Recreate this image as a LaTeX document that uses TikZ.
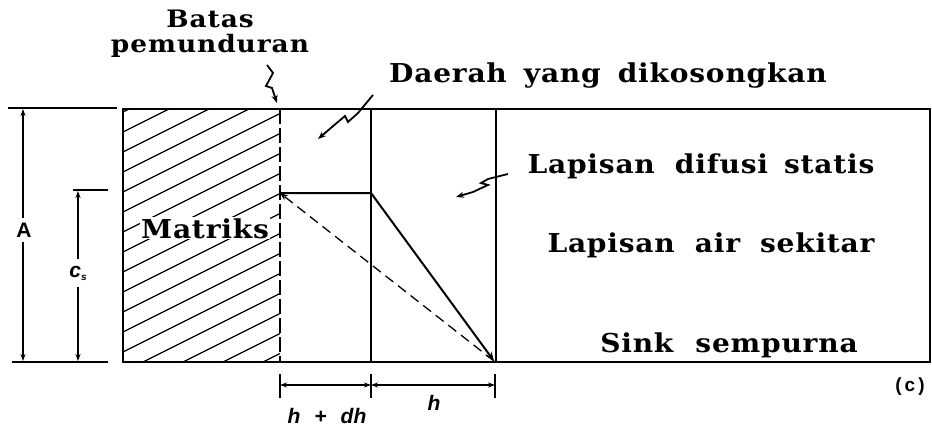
\documentclass[tikz,border=0pt]{standalone}
\usepackage{fontspec}
\setmainfont{DejaVu Serif}
\newfontfamily\dimfont{Liberation Sans}
\usetikzlibrary{positioning, arrows.meta}

\begin{document}
\begin{tikzpicture}[
  x=1pt, y=-1pt,
  lbl/.style={anchor=base, inner sep=1pt, font=\fontsize{26}{27}\selectfont\bfseries\addfontfeatures{FakeStretch=1.08,LetterSpace=3}},
  dimlbl/.style={inner sep=1pt, font=\dimfont\fontsize{21}{21}\selectfont\bfseries},
  wall/.style={line width=2pt},
  hatch/.style={line width=1.3pt},
  dimln/.style={{Stealth[length=7pt,width=5pt]}-{Stealth[length=7pt,width=5pt]}, line width=1.6pt},
  zig/.style={-{Stealth[length=8pt,width=6pt]}, line width=1.8pt}
]
\useasboundingbox (0,0) rectangle (932,428);

% box corners and layer lines
\coordinate (tl) at (123,109);
\coordinate (bl) at (123,362);
\coordinate (tr) at (930,109);
\coordinate (br) at (930,362);
\coordinate (mt) at (280,109);
\coordinate (mb) at (280,362);
\coordinate (ft) at (371,109);
\coordinate (fb) at (371,362);
\coordinate (st) at (496,109);
\coordinate (sb) at (496,362);
% concentration profile
\coordinate (p0) at (280,193);
\coordinate (p1) at (371,193);
\coordinate (p2) at (494,361);

% hatched matrix
\begin{scope}
  \clip (tl) rectangle (mb);
  \foreach \c in {112,132,...,452}
    \draw[hatch] (123,\c) -- ++(170,-85);
\end{scope}
\node[lbl, fill=white] (matriks) at (205,238) {Matriks};

\draw[wall] (tl) -- (tr) -- (br) -- (bl) -- cycle;
\draw[wall, dash pattern=on 15pt off 4pt] (mt) -- (mb);
\draw[wall] (ft) -- (fb);
\draw[wall] (st) -- (sb);

\draw[wall, -{Stealth[length=9pt,width=7pt]}] (p0) -- (p1) -- (p2);
\draw[hatch, dash pattern=on 10pt off 6pt, -{Stealth[length=8pt,width=6pt]}] (p2) -- (p0);

% height A and c_s
\coordinate (a0) at (8,108);
\coordinate (a1) at (117,108);
\coordinate (a2) at (12,362);
\coordinate (a3) at (108,362);
\coordinate (c0) at (73,190);
\coordinate (c1) at (108,190);
\draw[wall] (a0) -- (a1);
\draw[wall] (a2) -- (a3);
\draw[wall] (c0) -- (c1);
\draw[dimln] (23,109) coordinate (at) -- (23,361) coordinate (ab);
\draw[dimln] (78,191) coordinate (ct) -- (78,361) coordinate (cb);
\node[dimlbl, fill=white, inner ysep=5pt] (labA) at (24,230) {A};
\node[dimlbl, fill=white, inner ysep=7pt] (labCs) at (78,273) {\itshape c\raisebox{-3pt}{\fontsize{10}{10}\selectfont s}};

% widths h + dh and h
\coordinate (d0) at (280,385);
\coordinate (d1) at (371,385);
\coordinate (d2) at (495,385);
\foreach \d in {d0,d1,d2}
  \draw[hatch] ([yshift=-13pt]\d) -- ([yshift=11pt]\d);
\draw[dimln] (d0) -- (d1);
\draw[dimln] (d1) -- (d2);
\node[dimlbl, anchor=base] (labhdh) at (327,423) {\itshape h\hspace{14pt}+\hspace{14pt}dh};
\node[dimlbl, anchor=base] (labh) at (434,410) {\itshape h};
\node[dimlbl, font=\dimfont\fontsize{19}{19}\selectfont\bfseries] (labc) at (910,387) {(\hspace{3pt}c\hspace{3pt})};

% labels
\node[lbl, align=center, font=\fontsize{24}{25}\selectfont\bfseries\addfontfeatures{FakeStretch=1.1,LetterSpace=4}] (batas) at (210,53) {Batas\\pemunduran};
\node[lbl] (daerah) at (608,83) {Daerah\hspace{17pt}yang\hspace{17pt}dikosongkan};
\node[lbl] (difusi) at (701,173) {Lapisan\hspace{20pt}difusi\hspace{16pt}statis};
\node[lbl] (sekitar) at (711,252) {Lapisan\hspace{20pt}air\hspace{20pt}sekitar};
\node[lbl] (sink) at (729,352) {Sink\hspace{22pt}sempurna};

% pointers
\draw[zig] (267,65) -- (273,73) -- (266,86) -- (272,88) -- (277,103);
\draw[zig] (373,95) -- (358,113) -- (348,122) -- (345,116) -- (332,127) -- (318,139);
\draw[zig] (508,174) -- (488,179) -- (481,183) -- (488,185) -- (473,192) -- (456,197);
\end{tikzpicture}
\end{document}
